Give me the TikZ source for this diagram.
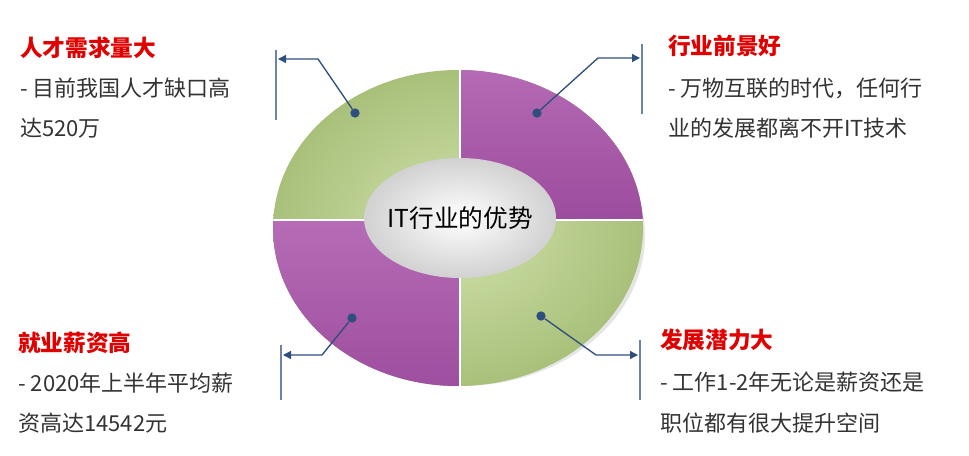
\documentclass[tikz,border=0pt]{standalone}
\usepackage{fontspec}
\setmainfont{Noto Sans CJK SC}
\usetikzlibrary{arrows.meta}
\definecolor{grn}{HTML}{D0E2AC}
\definecolor{grnd}{HTML}{A9C07A}
\definecolor{pur}{HTML}{B060B0}
\definecolor{purd}{HTML}{8A3A8C}
\definecolor{ln}{HTML}{2E4F7E}
\definecolor{ttl}{HTML}{E00000}
\tikzset{
 ttlx/.style={anchor=west,text=ttl,font=\bfseries\fontsize{17}{20}\selectfont,inner sep=0},
 body/.style={anchor=west,text=black!80,font=\fontsize{16.5}{20}\selectfont,inner sep=0},
 conn/.style={draw=ln,line width=1pt,-{Triangle[length=6pt,width=6pt]}},
 bar/.style={draw=ln!70,line width=1pt},
 dotn/.style={circle,fill=ln,inner sep=0,minimum size=7pt}
}
\begin{document}
\begin{tikzpicture}[x=0.75pt,y=-0.75pt]
\useasboundingbox (0,0) rectangle (969,456);
\fill[black!10] (462,236) ellipse (183 and 150);
\begin{scope}
\clip (458,228) ellipse (185 and 158);
\shade[inner color=grn,outer color=grnd] (458,228) ellipse (185 and 158);
\fill[pur] (460,0) rectangle (700,220);
\fill[pur] (200,220) rectangle (460,460);
\shade[top color=pur!85,bottom color=purd,opacity=.5] (460,60) rectangle (700,220);
\shade[top color=pur!85,bottom color=purd,opacity=.5] (200,220) rectangle (460,400);
\draw[white,line width=1.2pt] (460,0)--(460,460) (200,220)--(700,220);
\end{scope}
\shade[inner color=white,outer color=black!18] (460,218) ellipse (96 and 60);
\node[font=\fontsize{18.5}{22}\selectfont] (c) at (460,218) {IT行业的优势};
\node[dotn] (d1) at (355,113) {};
\node[dotn] (d2) at (537,113) {};
\node[dotn] (d3) at (352,318) {};
\node[dotn] (d4) at (541,316) {};
\coordinate (b1) at (318,59); \coordinate (e1) at (278,59);
\coordinate (b2) at (598,58); \coordinate (e2) at (640,58);
\coordinate (b3) at (322,355); \coordinate (e3) at (283,355);
\coordinate (b4) at (596,355); \coordinate (e4) at (638,355);
\draw[bar] (276,50)--(276,120);
\draw[bar] (642,44)--(642,114);
\draw[bar] (281,345)--(281,400);
\draw[bar] (640,340)--(640,400);
\draw[conn] (d1)--(b1)--(e1);
\draw[conn] (d2)--(b2)--(e2);
\draw[conn] (d3)--(b3)--(e3);
\draw[conn] (d4)--(b4)--(e4);
\node[ttlx] (t1) at (20,48) {人才需求量大};
\node[body] (a1) at (20,88) {- 目前我国人才缺口高};
\node[body] (a2) at (20,128) {达520万};
\node[ttlx] (t2) at (668,46) {行业前景好};
\node[body] (a3) at (668,88) {- 万物互联的时代，任何行};
\node[body] (a4) at (668,128) {业的发展都离不开IT技术};
\node[ttlx] (t3) at (18,343) {就业薪资高};
\node[body] (a5) at (18,383) {- 2020年上半年平均薪};
\node[body] (a6) at (18,423) {资高达14542元};
\node[ttlx] (t4) at (660,340) {发展潜力大};
\node[body] (a7) at (660,382) {- 工作1-2年无论是薪资还是};
\node[body] (a8) at (660,423) {职位都有很大提升空间};
\end{tikzpicture}
\end{document}
